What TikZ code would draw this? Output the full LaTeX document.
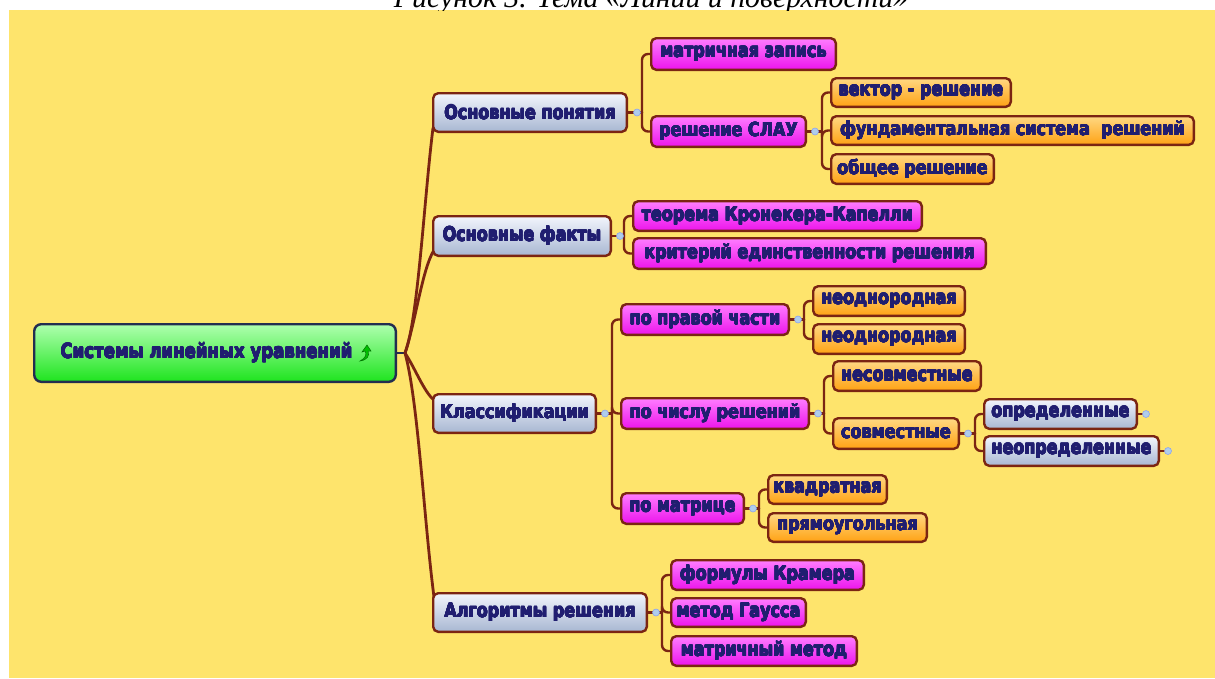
\documentclass[tikz,border=0pt]{standalone}
\usepackage{fontspec}
\usepackage{graphicx}
\usepackage[copies]{contour}
\setmainfont{Liberation Serif}
\newfontfamily\mmfont{DejaVu Sans}
\usetikzlibrary{arrows.meta}
\contourlength{0.3pt}
\contournumber{12}

\definecolor{mmyellow}{RGB}{254,228,108}
\definecolor{mmbrown}{RGB}{123,37,18}
\definecolor{mmnavy}{RGB}{32,30,112}
\definecolor{greytop}{RGB}{242,245,252}
\definecolor{greybot}{RGB}{168,183,210}
\definecolor{magtop}{RGB}{255,125,255}
\definecolor{magbot}{RGB}{236,20,236}
\definecolor{ortop}{RGB}{255,216,130}
\definecolor{orbot}{RGB}{255,162,20}
\definecolor{greentop}{RGB}{175,255,175}
\definecolor{greenbot}{RGB}{30,228,30}
\definecolor{rootedge}{RGB}{35,45,80}
\definecolor{dotblue}{RGB}{175,205,235}

\pgfdeclarelayer{bg}
\pgfsetlayers{bg,main}

\tikzset{
  box/.style={draw=mmbrown, line width=2.4pt, rounded corners=5pt, inner sep=0pt,
    font=\mmfont\bfseries\fontsize{16}{18}\selectfont, text=mmnavy},
  greybox/.style={box, top color=greytop, bottom color=greybot},
  magbox/.style={box, top color=magtop, bottom color=magbot},
  orbox/.style={box, top color=ortop, bottom color=orbot},
  rootbox/.style={box, draw=rootedge, top color=greentop, bottom color=greenbot,
    font=\mmfont\bfseries\fontsize{16.6}{19}\selectfont, rounded corners=7pt},
  conn/.style={draw=mmbrown, line width=2.4pt, line cap=round},
  branch/.style={draw=mmbrown, line width=2.8pt, line cap=round},
  knob/.style={circle, fill=dotblue, draw=dotblue!80!blue, line width=0.6pt,
    minimum size=7pt, inner sep=0pt},
}

% box from its outer corners (x1,y1)-(x2,y2); heavy, slightly tall lettering
\newcommand\mmbox[7]{%
  \node[#2, minimum width={#5pt-#3pt-2.4pt}, minimum height={#6pt-#4pt-2.4pt}]
    (#1) at ({(#3+#5)/2},{(#4+#6)/2}) {\scalebox{1}[1.2]{\contour{mmnavy}{#7}}};}

\begin{document}
\begin{tikzpicture}[x=1pt,y=-1pt]
\useasboundingbox (0,0) rectangle (1215,678);

% caption, cut by the top edge
\begin{scope}
  \clip (0,0) rectangle (1215,10);
  \node[anchor=base, font=\itshape\fontsize{29.8}{32}\selectfont, inner sep=0pt]
    (caption) at (651,7) {Рисунок 3. Тема «Линии и поверхности»};
\end{scope}

% root
\mmbox{root}{rootbox}{33}{323}{397}{383}{Системы линейных уравнений\hspace{17pt}}

% main branches
\mmbox{A1}{greybox}{432}{92}{628}{133}{Основные понятия}
\mmbox{A2}{greybox}{432}{215}{612}{257}{Основные факты}
\mmbox{A3}{greybox}{432}{393}{597}{434}{Классификации}
\mmbox{A4}{greybox}{432}{592}{648}{633}{Алгоритмы решения}

% second level
\mmbox{B1}{magbox}{650}{37}{837}{71}{матричная запись}
\mmbox{B2}{magbox}{650}{115}{807}{148}{решение СЛАУ}
\mmbox{B3}{magbox}{632}{200}{923}{232}{теорема Кронекера-Капелли}
\mmbox{B4}{magbox}{632}{237}{987}{270}{критерий единственности решения}
\mmbox{B5}{magbox}{620}{303}{790}{336}{по правой части}
\mmbox{B6}{magbox}{620}{397}{810}{430}{по числу решений}
\mmbox{B7}{magbox}{620}{492}{745}{525}{по матрице}
\mmbox{B8}{magbox}{670}{559}{865}{591}{формулы Крамера}
\mmbox{B9}{magbox}{670}{597}{807}{628}{метод Гаусса}
\mmbox{B10}{magbox}{670}{635}{858}{667}{матричный метод}

% third level
\mmbox{C1}{orbox}{830}{77}{1012}{108}{вектор - решение}
\mmbox{C2}{orbox}{830}{115}{1195}{146}{фундаментальная система\ \ решений}
\mmbox{C3}{orbox}{830}{153}{995}{185}{общее решение}
\mmbox{C4}{orbox}{812}{285}{966}{317}{неоднородная}
\mmbox{C5}{orbox}{812}{323}{966}{355}{неоднородная}
\mmbox{C6}{orbox}{832}{360}{982}{392}{несовместные}
\mmbox{C7}{orbox}{832}{417}{960}{450}{совместные}
\mmbox{C8}{orbox}{767}{474}{888}{505}{квадратная}
\mmbox{C9}{orbox}{767}{512}{928}{543}{прямоугольная}

% fourth level
\mmbox{D1}{greybox}{983}{398}{1138}{430}{определенные}
\mmbox{D2}{greybox}{983}{435}{1160}{467}{неопределенные}

% icon after the root title
\draw[draw=green!45!black, fill=green!75!black, line width=0.5pt]
  (360,361) .. controls (366,358) and (367,354) .. (365,351) -- (362,352)
  -- (367,345) -- (371,351) -- (368,351) .. controls (370,356) and (367,360) .. (360,361) -- cycle;

% junction knobs
\node[knob] (kA1) at (637,112.5) {};
\node[knob] (kB2) at (815,131.5) {};
\node[knob] (kA2) at (620,236) {};
\node[knob] (kA3) at (605,413.5) {};
\node[knob] (kB5) at (798,319.5) {};
\node[knob] (kB6) at (818,413.5) {};
\node[knob] (kC7) at (968,433.5) {};
\node[knob] (kB7) at (753,508.5) {};
\node[knob] (kA4) at (656,612.5) {};
\node[knob] (kD1) at (1146,414) {};
\node[knob] (kD2) at (1168,451) {};

\coordinate (hub) at (405,353);

\begin{pgfonlayer}{bg}
  \fill[mmyellow] (9,10) rectangle (1215,678);

  % root to main branches
  \draw[draw=rootedge, line width=2.4pt] (root.east) -- (hub);
  \draw[branch] (hub) .. controls (418,320) and (424,200) .. (433,128);
  \draw[branch] (hub) .. controls (416,320) and (422,270) .. (434,250);
  \draw[branch] (hub) .. controls (415,368) and (424,392) .. (434,400);
  \draw[branch] (hub) .. controls (418,400) and (424,520) .. (434,597);

  % brackets: knob, spine at x, then each child
  \foreach \k/\p/\x/\kids in {
      kA1/A1/642/{B1,B2},
      kB2/B2/822/{C1,C2,C3},
      kA2/A2/624/{B3,B4},
      kA3/A3/612/{B5,B6,B7},
      kB5/B5/804/{C4,C5},
      kB6/B6/824/{C6,C7},
      kC7/C7/975/{D1,D2},
      kB7/B7/759/{C8,C9},
      kA4/A4/662/{B8,B9,B10}} {
    \draw[conn] (\p.east) -- (\k.center) -- (\x,0 |- \k.center);
    \foreach \c in \kids {
      \draw[conn, rounded corners=6pt] (\k.center -| \x,0) |- (\c.west);
    }
  }
  \draw[conn] (D1.east) -- (kD1.center);
  \draw[conn] (D2.east) -- (kD2.center);
\end{pgfonlayer}
\end{tikzpicture}
\end{document}
